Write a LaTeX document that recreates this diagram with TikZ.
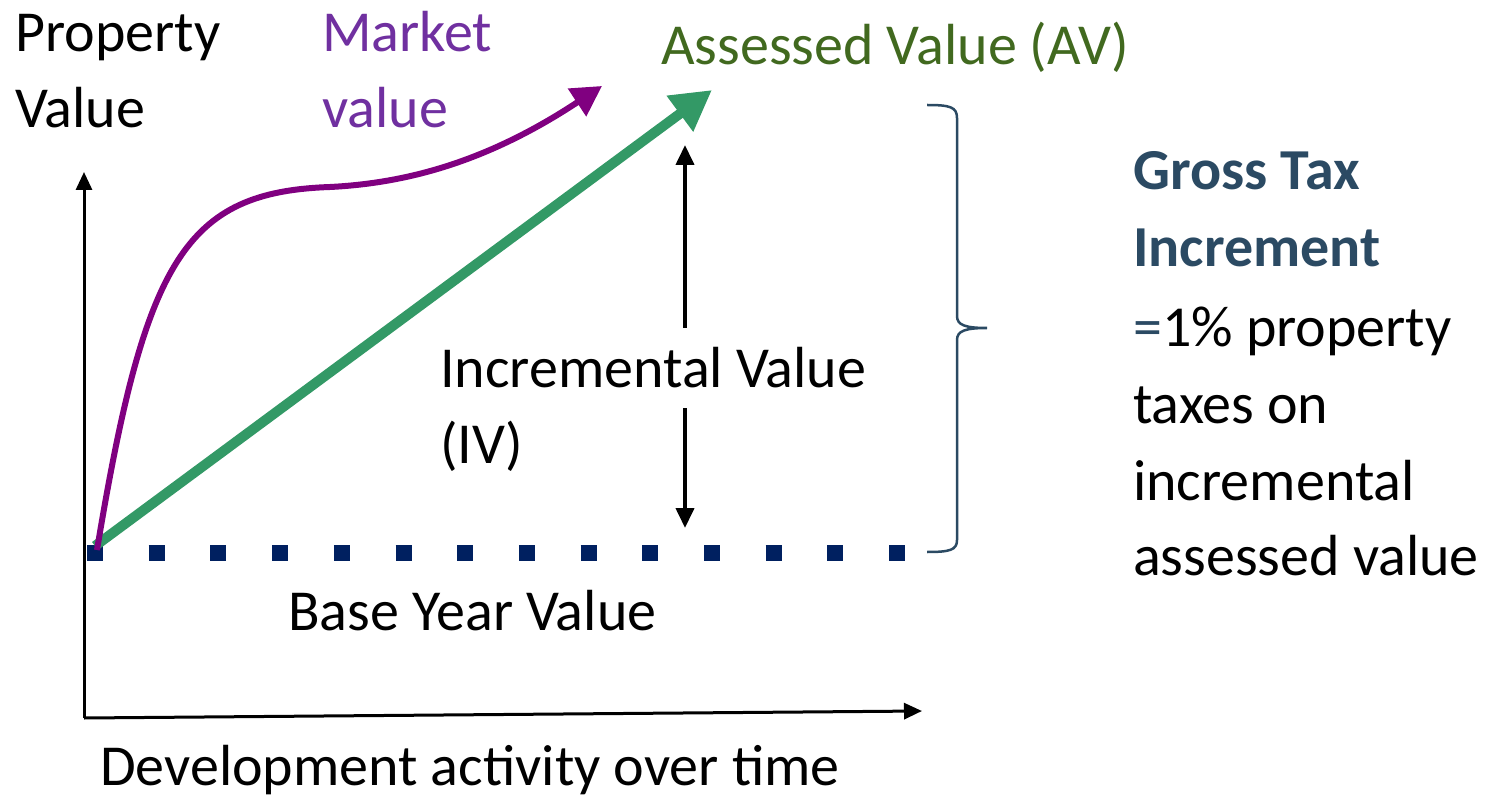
\documentclass[tikz,border=0pt]{standalone}
\usepackage{fontspec}
\setmainfont{Carlito}
\usetikzlibrary{arrows.meta}
\definecolor{mktpurple}{HTML}{800080}
\definecolor{mkttext}{HTML}{7030A0}
\definecolor{avgreen}{HTML}{339966}
\definecolor{avtext}{HTML}{41691F}
\definecolor{navy}{HTML}{002060}
\definecolor{slate}{HTML}{2B4A63}
\tikzset{
  lbl/.style={inner sep=0pt, anchor=base west, font=\fontsize{58}{76}\selectfont},
  axis/.style={line width=3pt, -{Triangle[length=18pt,width=16pt]}},
  ivarrow/.style={line width=4pt, -{Triangle[length=20pt,width=18pt]}},
}
\begin{document}
\begin{tikzpicture}[x=1pt,y=-1pt]
\useasboundingbox (0,0) rectangle (1496,799);
% axes
\coordinate (O) at (84,718);
\coordinate (ytop) at (84,172);
\coordinate (xend) at (922,711);
\draw[axis] (O) -- (ytop);
\draw[axis] (O) -- (xend);
% base year dotted line
\coordinate (b0) at (87,553);
\coordinate (b1) at (905,553);
\draw[navy, line width=16pt, dash pattern=on 16pt off 45.7pt] (b0) -- (b1);
% green AV arrow
\coordinate (g0) at (95,546);
\coordinate (g1) at (712,90);
\draw[avgreen, line width=10pt, -{Triangle[length=40pt,width=42pt]}] (g0) -- (g1);
% purple market curve
\coordinate (m0) at (97,550);
\coordinate (m1) at (330,187);
\coordinate (m2) at (602,86);
\draw[mktpurple, line width=6pt, -{Triangle[length=30pt,width=32pt]}]
  (m0) .. controls (145,260) and (185,192) .. (m1)
       .. controls (410,183) and (490,160) .. (m2);
% IV double arrow
\coordinate (iv0) at (685,328);
\coordinate (iv1) at (685,145);
\coordinate (iv2) at (685,408);
\coordinate (iv3) at (685,528);
\draw[ivarrow] (iv0) -- (iv1);
\draw[ivarrow] (iv2) -- (iv3);
% brace
\draw[slate, line width=2.5pt]
  (927,105) .. controls (950,105) and (957,107) .. (957,118) -- (957,316)
  .. controls (957,325) and (965,328) .. (987,328)
  .. controls (965,328) and (957,331) .. (957,340) -- (957,540)
  .. controls (957,550) and (950,552) .. (927,552);
% labels
\node[lbl] (pv1) at (15,52) {Property};
\node[lbl] (pv2) at (15,128) {Value};
\node[lbl, text=mkttext] (mv1) at (322,52) {Market};
\node[lbl, text=mkttext] (mv2) at (322,128) {value};
\node[lbl, text=avtext] (av) at (661,65) {Assessed Value (AV)};
\node[lbl] (iv1t) at (440,388) {Incremental Value};
\node[lbl] (iv2t) at (440,463) {(IV)};
\node[lbl] (byv) at (288,630) {Base Year Value};
\node[lbl] (dev) at (100,785) {Development activity over time};
\node[lbl, text=slate, font=\fontsize{58}{76}\selectfont\bfseries] (g1t) at (1133,190) {Gross Tax};
\node[lbl, text=slate, font=\fontsize{58}{76}\selectfont\bfseries] (g2t) at (1133,267) {Increment};
\node[lbl] (g3t) at (1133,347) {\textcolor{slate}{=}1\% property};
\node[lbl] (g4t) at (1133,423) {taxes on};
\node[lbl] (g5t) at (1133,500) {incremental};
\node[lbl] (g6t) at (1133,575) {assessed value};
\end{tikzpicture}
\end{document}
